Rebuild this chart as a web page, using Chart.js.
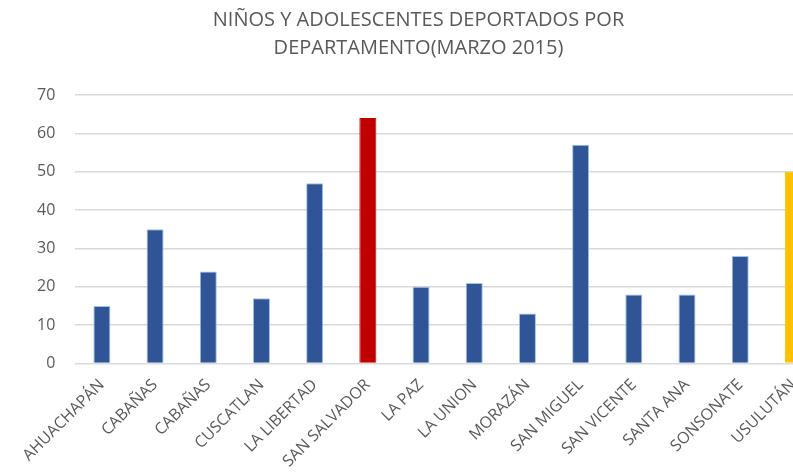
<!DOCTYPE html>
<html>
<head>
<meta charset="utf-8">
<script src="https://cdn.jsdelivr.net/npm/chart.js@4/dist/chart.umd.min.js"></script>
<style>
	html, body { margin: 0; padding: 0; background: #fff; overflow: hidden; }
	#wrap { width: 820px; height: 475px; }
</style>
</head>
<body>
<div id="wrap"><canvas id="chart"></canvas></div>
<script>
const departamentos = [
	'AHUACHAPÁN', 'CABAÑAS', 'CABAÑAS', 'CUSCATLAN', 'LA LIBERTAD',
	'SAN SALVADOR', 'LA PAZ', 'LA UNION', 'MORAZÁN', 'SAN MIGUEL',
	'SAN VICENTE', 'SANTA ANA', 'SONSONATE', 'USULUTÁN',
];
const deportados = [15, 35, 24, 17, 47, 64, 20, 21, 13, 57, 18, 18, 28, 50];
const barColors = [
	'#2F5597', '#2F5597', '#2F5597', '#2F5597', '#2F5597',
	'#C00000', '#2F5597', '#2F5597', '#2F5597', '#2F5597',
	'#2F5597', '#2F5597', '#2F5597', '#FFC000',
];
const borderColors = barColors.map((c) => (c === '#2F5597' ? '#9DC3E6' : c));
const titleLines = ['NIÑOS Y ADOLESCENTES DEPORTADOS POR', 'DEPARTAMENTO(MARZO 2015)'];

const textColor = '#595959';

new Chart(document.getElementById('chart'), {
	type: 'bar',
	data: {
		labels: departamentos,
		datasets: [
			{
				label: 'Deportados',
				data: deportados,
				backgroundColor: barColors,
				borderColor: borderColors,
				borderWidth: 1,
				categoryPercentage: 1,
				barPercentage: 0.32,
			},
		],
	},
	options: {
		responsive: true,
		maintainAspectRatio: false,
		animation: false,
		layout: {
			padding: { left: 17, right: 0, top: 2, bottom: 0 },
		},
		plugins: {
			legend: { display: false },
			tooltip: { enabled: false },
			title: {
				display: true,
				text: titleLines,
				color: textColor,
				font: { family: 'Open Sans', size: 20, weight: 'normal', lineHeight: 1.4 },
				padding: { top: 4, bottom: 33 },
			},
		},
		scales: {
			x: {
				grid: { display: false },
				border: { display: false },
				ticks: {
					color: textColor,
					font: { family: 'Open Sans', size: 16 },
					minRotation: 45,
					maxRotation: 45,
					autoSkip: false,
					padding: 4,
				},
			},
			y: {
				min: 0,
				max: 70,
				grid: { color: '#D9D9D9', lineWidth: 1.5, drawTicks: false },
				border: { display: false },
				ticks: {
					stepSize: 10,
					color: textColor,
					font: { family: 'Open Sans', size: 16 },
					padding: 20,
				},
			},
		},
	},
});
</script>
</body>
</html>
